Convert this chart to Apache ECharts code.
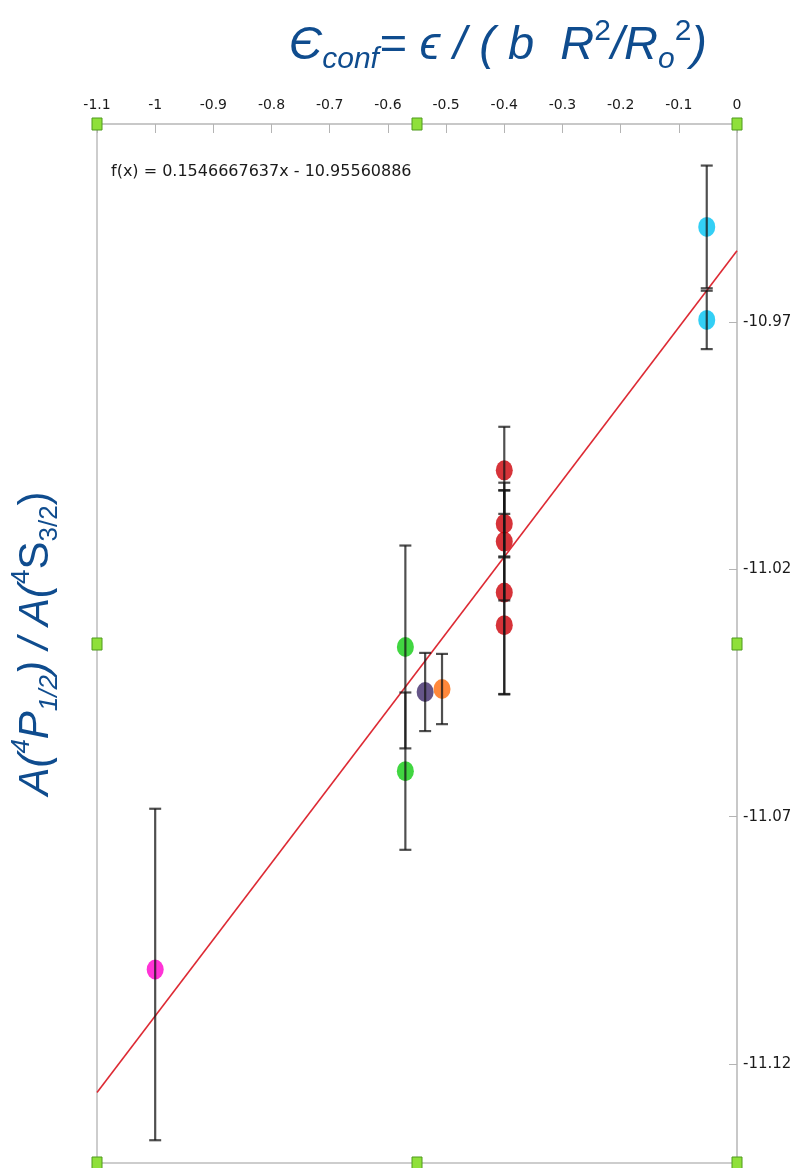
<!DOCTYPE html>
<html>
<head>
<meta charset="utf-8">
<script src="https://cdn.jsdelivr.net/npm/echarts@6/dist/echarts.min.js"></script>
<style>
  html, body { margin: 0; padding: 0; background: #ffffff; }
  #chart { width: 796px; height: 1168px; }
</style>
</head>
<body>
<div id="chart"></div>
<script>
// Measurements: confinement parameter (x) vs. transition-rate ratio (y), with error bars
const xValues   = [-0.052, -0.052, -0.4, -0.4, -0.4, -0.4, -0.4, -0.57, -0.57, -0.536, -0.507, -1.0];
const yValues   = [-10.9508, -10.9696, -11.0000, -11.0108, -11.0144, -11.0247, -11.0313, -11.0357, -11.0608, -11.0448, -11.0442, -11.1009];
const errPlus   = [0.0124, 0.0059, 0.0088, 0.0068, 0.0119, 0.0206, 0.0139, 0.0205, 0.0159, 0.0079, 0.0071, 0.0325];
const errMinus  = [0.0124, 0.0059, 0.0088, 0.0068, 0.0119, 0.0206, 0.0139, 0.0205, 0.0159, 0.0079, 0.0071, 0.0345];
const pointGroup = [0, 0, 1, 1, 1, 1, 1, 2, 2, 3, 4, 5];

// Axis ranges and ticks
const xMin = -1.1, xMax = 0, xStep = 0.1;
const yMin = -11.14, yMax = -10.93;
const yTickValues = [-10.97, -11.02, -11.07, -11.12];

// Linear fit coefficients
const fitSlope = 0.1546667637;
const fitIntercept = -10.95560886;

const groupColors = ['#00c3f2', '#cc0008', '#11cc11', '#3f2a6a', '#ff6a0a', '#ff00cc'];
const titleBlue = '#0f4c8e';
const fitLine = (x) => fitSlope * x + fitIntercept;

const chart = echarts.init(document.getElementById('chart'), null, { renderer: 'canvas' });

const scatterData = xValues.map((x, i) => ({
  value: [x, yValues[i]],
  itemStyle: { color: groupColors[pointGroup[i]] }
}));
const errorData = xValues.map((x, i) => [x, yValues[i] - errMinus[i], yValues[i] + errPlus[i]]);

const tickFont = 'DejaVu Sans';
const rt = (size, style, extra) => Object.assign({
  fontFamily: 'Liberation Sans', fontStyle: style, fontWeight: 'normal', fontSize: size, color: titleBlue
}, extra || {});

const option = {
  animation: false,
  backgroundColor: '#ffffff',
  title: {
    text: '{a|Є}{sub|conf}{a|= ϵ / ( b  R}{sup|2}{a|/R}{sub|o}{sup|2}{a|)}',
    left: 284,
    top: 12,
    textStyle: {
      fontWeight: 'normal',
      rich: {
        a:   rt(47, 'italic', { lineHeight: 58 }),
        sub: rt(30, 'italic', { lineHeight: 30, verticalAlign: 'bottom' }),
        sup: rt(30, 'normal', { lineHeight: 32, verticalAlign: 'top' })
      }
    }
  },
  grid: {
    left: 97, right: 59, top: 124, bottom: 5,
    show: true, borderColor: '#cdcdcd', borderWidth: 2
  },
  xAxis: {
    type: 'value',
    position: 'top',
    min: xMin, max: xMax, interval: xStep,
    axisLine: { show: true, onZero: false, lineStyle: { color: '#c8c8c8', width: 2 } },
    axisTick: { show: true, inside: true, length: 9, lineStyle: { color: '#b4b4b4', width: 1 } },
    axisLabel: {
      margin: 12, color: '#1a1a1a', fontFamily: tickFont, fontSize: 14,
      formatter: (v) => String(Math.round(v * 10) / 10)
    },
    splitLine: { show: false }
  },
  yAxis: [
    {
      type: 'value',
      position: 'right',
      min: yMin, max: yMax,
      axisLine: { show: true, onZero: false, lineStyle: { color: '#c8c8c8', width: 2 } },
      axisTick: { show: true, inside: true, length: 8, customValues: yTickValues, lineStyle: { color: '#b4b4b4', width: 1 } },
      axisLabel: {
        margin: 6, color: '#1a1a1a', fontFamily: tickFont, fontSize: 15,
        customValues: yTickValues,
        formatter: (v) => v.toFixed(2)
      },
      splitLine: { show: false }
    },
    {
      type: 'value',
      position: 'left',
      min: yMin, max: yMax,
      axisLine: { show: false },
      axisTick: { show: false },
      axisLabel: { show: false },
      splitLine: { show: false },
      name: '{i|A(}{supi|4}{i|P}{subi|1/2}{i|) / A(}{sup|4}{n|S}{sub|3/2}{n|)}',
      nameLocation: 'middle',
      nameRotate: 90,
      nameGap: 34,
      nameTextStyle: {
        rich: {
          i:    rt(42, 'italic', { lineHeight: 54 }),
          n:    rt(42, 'normal', { lineHeight: 54 }),
          supi: rt(26, 'italic', { lineHeight: 29, verticalAlign: 'top' }),
          sup:  rt(26, 'normal', { lineHeight: 29, verticalAlign: 'top' }),
          subi: rt(26, 'italic', { lineHeight: 27, verticalAlign: 'bottom' }),
          sub:  rt(26, 'normal', { lineHeight: 27, verticalAlign: 'bottom' })
        }
      }
    }
  ],
  graphic: [
    {
      type: 'text',
      left: 111, top: 164,
      style: {
        text: 'f(x) = ' + fitSlope + 'x - ' + Math.abs(fitIntercept),
        font: '16px "DejaVu Sans"',
        fill: '#1a1a1a'
      }
    }
  ],
  series: [
    {
      type: 'scatter',
      name: 'measurements',
      xAxisIndex: 0, yAxisIndex: 0,
      symbol: 'circle',
      symbolSize: [17, 20],
      data: scatterData,
      z: 2
    },
    {
      type: 'line',
      name: 'fit',
      xAxisIndex: 0, yAxisIndex: 0,
      data: [[xMin, fitLine(xMin)], [xMax, fitLine(xMax)]],
      symbol: 'none',
      lineStyle: { color: '#dd2a34', width: 1.6 },
      z: 3
    },
    {
      type: 'custom',
      name: 'error bars',
      xAxisIndex: 0, yAxisIndex: 0,
      encode: { x: 0, y: [1, 2] },
      data: errorData,
      z: 4,
      renderItem: (params, api) => {
        const x = api.value(0);
        const lo = api.coord([x, api.value(1)]);
        const hi = api.coord([x, api.value(2)]);
        const cap = 6;
        const style = { stroke: 'rgba(20,20,20,0.75)', lineWidth: 2.2 };
        return {
          type: 'group',
          children: [
            { type: 'line', shape: { x1: lo[0], y1: lo[1], x2: hi[0], y2: hi[1] }, style },
            { type: 'line', shape: { x1: lo[0] - cap, y1: lo[1], x2: lo[0] + cap, y2: lo[1] }, style },
            { type: 'line', shape: { x1: hi[0] - cap, y1: hi[1], x2: hi[0] + cap, y2: hi[1] }, style }
          ]
        };
      }
    }
  ]
};

chart.setOption(option);

// Selection handles on the plot-area frame: corners and edge midpoints
const xMid = (xMin + xMax) / 2, yMid = (yMin + yMax) / 2;
const handlePoints = [
  [xMin, yMax], [xMid, yMax], [xMax, yMax],
  [xMin, yMid], [xMax, yMid],
  [xMin, yMin], [xMid, yMin], [xMax, yMin]
];
const handles = handlePoints.map((p) => {
  const px = chart.convertToPixel({ gridIndex: 0 }, p);
  return {
    type: 'rect',
    shape: { x: Math.round(px[0]) - 5, y: Math.round(px[1]) - 6, width: 10, height: 12 },
    style: { fill: '#8fe03a', stroke: '#4f9a1c', lineWidth: 1 },
    z: 10
  };
});
chart.setOption({ graphic: option.graphic.concat(handles) });
</script>
</body>
</html>
